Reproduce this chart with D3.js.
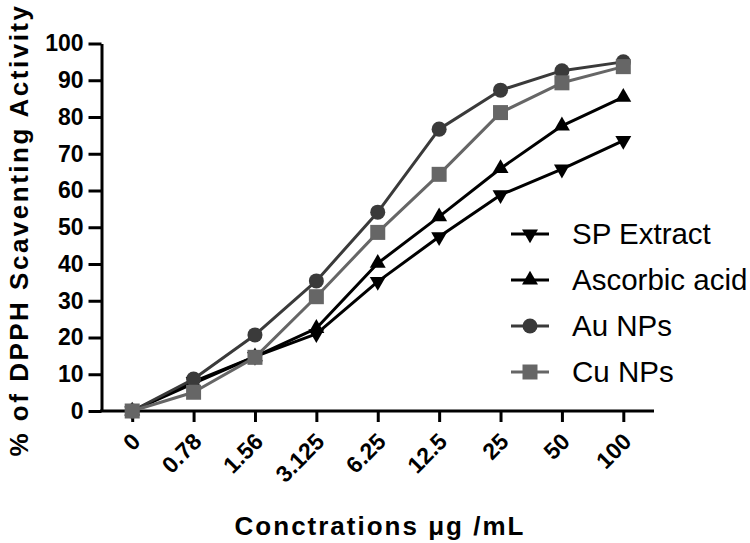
<!DOCTYPE html>
<html>
<head>
<meta charset="utf-8">
<script src="https://cdn.jsdelivr.net/npm/d3@7"></script>
<style>
  html, body { margin: 0; padding: 0; background: #fff; }
  svg { display: block; font-family: "Liberation Sans", Arial, Helvetica, sans-serif; }
</style>
</head>
<body>
<svg id="chart" width="750" height="543"></svg>
<script>
// ---- Data ----
const concentrations = ["0", "0.78", "1.56", "3.125", "6.25", "12.5", "25", "50", "100"];
const spExtract     = [0, 8.0, 14.8, 21.0, 35.2, 47.4, 58.8, 65.8, 73.6];
const ascorbicAcid  = [0, 7.5, 14.8, 22.5, 40.2, 52.9, 66.0, 77.6, 85.4];
const auNPs         = [0, 8.7, 20.7, 35.4, 54.1, 76.7, 87.3, 92.6, 95.0];
const cuNPs         = [0, 5.1, 14.6, 31.1, 48.6, 64.4, 81.2, 89.3, 93.7];
const yTicks = [0, 10, 20, 30, 40, 50, 60, 70, 80, 90, 100];
const seriesNames = ["SP Extract", "Ascorbic acid", "Au NPs", "Cu NPs"];

const series = [
  { name: seriesNames[0], values: spExtract,    color: "#000000", symbol: "tri-down" },
  { name: seriesNames[1], values: ascorbicAcid, color: "#000000", symbol: "tri-up" },
  { name: seriesNames[2], values: auNPs,        color: "#3a3a3a", symbol: "circle" },
  { name: seriesNames[3], values: cuNPs,        color: "#666666", symbol: "square" }
];

// ---- Layout ----
const svg = d3.select("#chart");
const plotLeft = 101.5, plotRight = 654, plotTop = 43.5, plotBottom = 411;

const x = d3.scalePoint().domain(concentrations).range([plotLeft, plotRight]).padding(0.5);
const y = d3.scaleLinear().domain([0, 100]).range([plotBottom, plotTop]);

function symbolPath(kind) {
  if (kind === "circle") return d3.symbol(d3.symbolCircle, 177)();
  if (kind === "square") return d3.symbol(d3.symbolSquare, 225)();
  return d3.symbol(d3.symbolTriangle, 110)();
}
function symbolTransform(kind, px, py) {
  if (kind === "tri-down") return `translate(${px},${py}) rotate(180)`;
  return `translate(${px},${py})`;
}

// ---- Axes ----
const yAxis = svg.append("g")
  .attr("transform", `translate(${plotLeft},0)`)
  .call(d3.axisLeft(y).tickValues(yTicks).tickSize(13).tickPadding(5).tickSizeOuter(0));
yAxis.select(".domain").attr("stroke-width", 3).attr("stroke", "#000");
yAxis.selectAll(".tick line").attr("stroke-width", 3).attr("stroke", "#000");
yAxis.selectAll(".tick text")
  .attr("font-size", 23).attr("font-weight", "bold").attr("fill", "#000")
  .attr("font-family", "Liberation Sans, Arial, sans-serif");

const xAxis = svg.append("g")
  .attr("transform", `translate(0,${plotBottom})`)
  .call(d3.axisBottom(x).tickSize(11).tickSizeOuter(0));
xAxis.select(".domain").attr("stroke-width", 3).attr("stroke", "#000")
  .attr("d", `M${plotLeft - 1.5},0H${plotRight}`);
xAxis.selectAll(".tick line").attr("stroke-width", 3).attr("stroke", "#000");
xAxis.selectAll(".tick text")
  .attr("font-size", 23).attr("font-weight", "bold").attr("fill", "#000")
  .attr("font-family", "Liberation Sans, Arial, sans-serif")
  .attr("text-anchor", "end")
  .attr("dy", null)
  .attr("y", null)
  .attr("transform", "translate(9,32) rotate(-45)");

// ---- Series ----
const line = d3.line().x((d, i) => x(concentrations[i])).y(d => y(d));
series.forEach(s => {
  const g = svg.append("g");
  g.append("path")
    .attr("d", line(s.values))
    .attr("fill", "none")
    .attr("stroke", s.color)
    .attr("stroke-width", 3)
    .attr("stroke-linejoin", "round");
  g.selectAll("path.pt").data(s.values).enter().append("path")
    .attr("class", "pt")
    .attr("d", symbolPath(s.symbol))
    .attr("transform", (d, i) => symbolTransform(s.symbol, x(concentrations[i]), y(d)))
    .attr("fill", s.color);
});

// ---- Legend ----
const legend = svg.append("g");
series.forEach((s, i) => {
  const ly = 234 + i * 46;
  legend.append("line")
    .attr("x1", 511).attr("x2", 549).attr("y1", ly).attr("y2", ly)
    .attr("stroke", s.color).attr("stroke-width", 3);
  legend.append("path")
    .attr("d", symbolPath(s.symbol))
    .attr("transform", symbolTransform(s.symbol, 530, ly))
    .attr("fill", s.color);
  legend.append("text")
    .attr("x", 572).attr("y", ly + 10)
    .attr("font-size", 29.5).attr("fill", "#000")
    .text(s.name);
});

// ---- Axis titles ----
svg.append("text")
  .attr("x", 380).attr("y", 535)
  .attr("text-anchor", "middle")
  .attr("font-size", 26).attr("font-weight", "bold")
  .attr("letter-spacing", "2px")
  .text("Conctrations \u03bcg /mL");

svg.append("text")
  .attr("transform", `translate(28,230) rotate(-90)`)
  .attr("text-anchor", "middle")
  .attr("font-size", 26).attr("font-weight", "bold")
  .attr("letter-spacing", "2.5px")
  .text("% of DPPH Scaventing Activity");
</script>
</body>
</html>
